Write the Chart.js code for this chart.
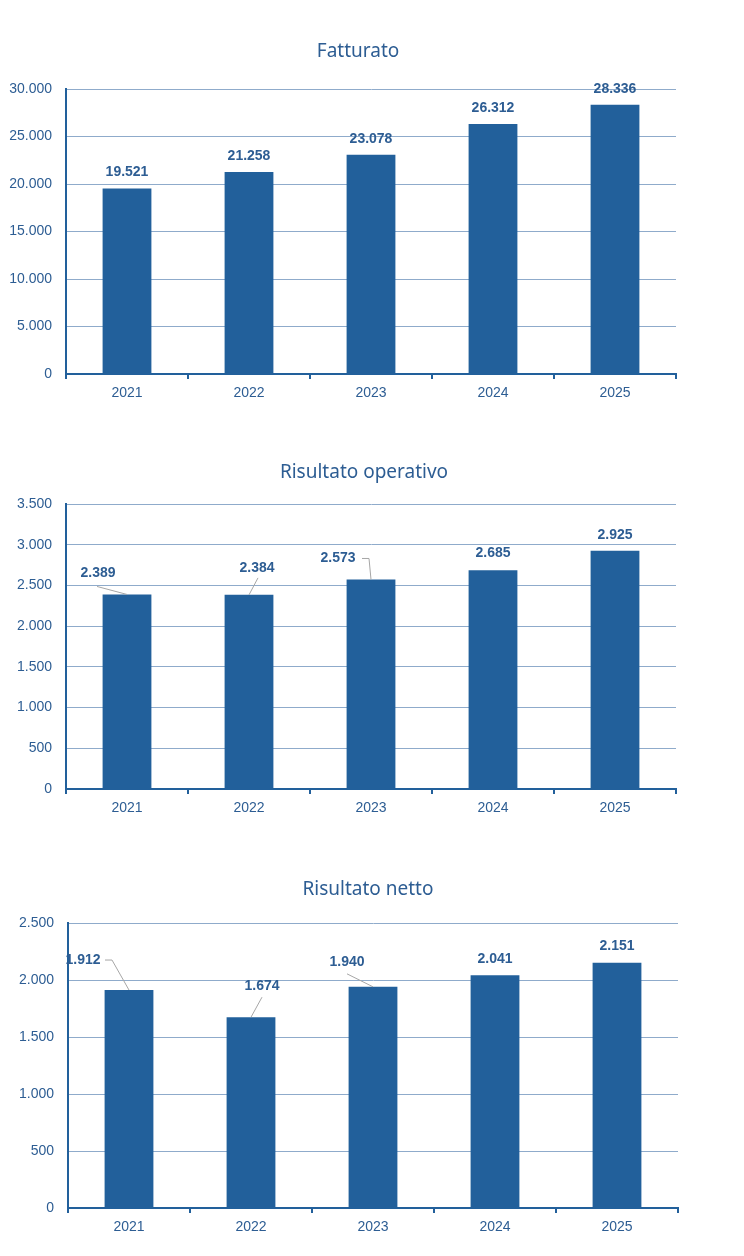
<!DOCTYPE html>
<html>
<head>
<meta charset="utf-8">
<script src="https://cdn.jsdelivr.net/npm/chart.js@4.4.1/dist/chart.umd.min.js"></script>
<style>
    body { margin: 0; background: #fff; }
    .box { position: absolute; left: 0; width: 744px; }
</style>
</head>
<body>
<div class="box" style="top:0"><canvas id="chartFatturato" width="744" height="415"></canvas></div>
<div class="box" style="top:415px"><canvas id="chartOperativo" width="744" height="415"></canvas></div>
<div class="box" style="top:830px"><canvas id="chartNetto" width="744" height="426"></canvas></div>
<script>
// dati
const anni = ['2021', '2022', '2023', '2024', '2025'];
const fatturato = [19521, 21258, 23078, 26312, 28336];
const risultatoOperativo = [2389, 2384, 2573, 2685, 2925];
const risultatoNetto = [1912, 1674, 1940, 2041, 2151];

const BLU = '#22609b';
const TESTO = '#2d5d93';
const GRIGLIA = '#8fabcb';
const ASSE_FONT = "'Liberation Sans Narrow', 'Liberation Sans', sans-serif";

function formatta(v) {
    return String(Math.round(v)).replace(/\B(?=(\d{3})+(?!\d))/g, '.');
}

// titolo + etichette dati con linee guida
const etichettePlugin = {
    id: 'etichette',
    afterDatasetsDraw(chart) {
        const opts = chart.options.plugins.etichette;
        const ctx = chart.ctx;
        const meta = chart.getDatasetMeta(0);
        const values = chart.data.datasets[0].data;
        ctx.save();

        ctx.font = "19px 'Noto Sans', 'Open Sans', sans-serif";
        ctx.fillStyle = TESTO;
        ctx.textAlign = 'center';
        ctx.textBaseline = 'middle';
        ctx.fillText(opts.titolo, opts.titoloX, opts.titoloY);

        meta.data.forEach(function(bar, i) {
            const pos = opts.posizioni[i];
            const lx = bar.x + pos[0];
            const ly = bar.y + pos[1];
            if (pos[2]) {
                ctx.strokeStyle = '#a6a6a6';
                ctx.lineWidth = 1;
                ctx.beginPath();
                ctx.moveTo(lx + pos[2][0][0], ly + pos[2][0][1]);
                for (let k = 1; k < pos[2].length; k++) {
                    ctx.lineTo(lx + pos[2][k][0], ly + pos[2][k][1]);
                }
                ctx.lineTo(bar.x, bar.y);
                ctx.stroke();
            }
            ctx.font = "bold 14px " + ASSE_FONT;
            ctx.fillStyle = TESTO;
            ctx.textAlign = 'center';
            ctx.textBaseline = 'middle';
            ctx.fillText(formatta(values[i]), lx, ly);
        });
        ctx.restore();
    }
};

function creaGrafico(id, valori, max, step, area, titolo, posizioni) {
    const canvas = document.getElementById(id);
    const h = canvas.height;
    new Chart(canvas.getContext('2d'), {
        type: 'bar',
        data: {
            labels: anni,
            datasets: [{
                data: valori,
                backgroundColor: BLU,
                categoryPercentage: 1,
                barPercentage: 0.4
            }]
        },
        options: {
            responsive: false,
            animation: false,
            layout: {
                padding: { top: area.top, left: 0, right: 744 - area.right, bottom: h - area.bottom - 30 }
            },
            plugins: {
                legend: { display: false },
                tooltip: { enabled: false },
                etichette: { titolo: titolo.testo, titoloX: titolo.x, titoloY: titolo.y, posizioni: posizioni }
            },
            scales: {
                x: {
                    afterFit(scale) { scale.height = 30; },
                    border: { color: BLU, width: 2 },
                    grid: { drawOnChartArea: false, drawTicks: true, tickLength: 5, color: BLU, lineWidth: 2, offset: true },
                    ticks: { color: TESTO, padding: 6, font: { family: ASSE_FONT, size: 14 } }
                },
                y: {
                    min: 0,
                    max: max,
                    afterFit(scale) { scale.width = area.left; },
                    border: { color: BLU, width: 2 },
                    grid: { color: GRIGLIA, lineWidth: 1, drawTicks: false },
                    ticks: {
                        stepSize: step,
                        color: TESTO,
                        padding: 14,
                        font: { family: ASSE_FONT, size: 14 },
                        callback: function(v) { return formatta(v); }
                    }
                }
            }
        },
        plugins: [etichettePlugin]
    });
}

creaGrafico('chartFatturato', fatturato, 30000, 5000,
    { top: 89, bottom: 374, left: 66, right: 676 },
    { testo: 'Fatturato', x: 358, y: 52 },
    [[0, -16], [0, -16], [0, -16], [0, -16], [0, -16]]);

creaGrafico('chartOperativo', risultatoOperativo, 3500, 500,
    { top: 89, bottom: 374, left: 66, right: 676 },
    { testo: 'Risultato operativo', x: 364, y: 58 },
    [
        [-29, -21, [[-1, 13]]],
        [8, -27, [[1, 10]]],
        [-33, -21, [[24, 0], [31, 0]]],
        [0, -17],
        [0, -16]
    ]);

creaGrafico('chartNetto', risultatoNetto, 2500, 500,
    { top: 93, bottom: 378, left: 68, right: 678 },
    { testo: 'Risultato netto', x: 368, y: 60 },
    [
        [-46, -30, [[22, 0], [29, 0]]],
        [11, -31, [[0, 11]]],
        [-26, -25, [[0, 12]]],
        [0, -16],
        [0, -17]
    ]);
</script>
</body>
</html>
